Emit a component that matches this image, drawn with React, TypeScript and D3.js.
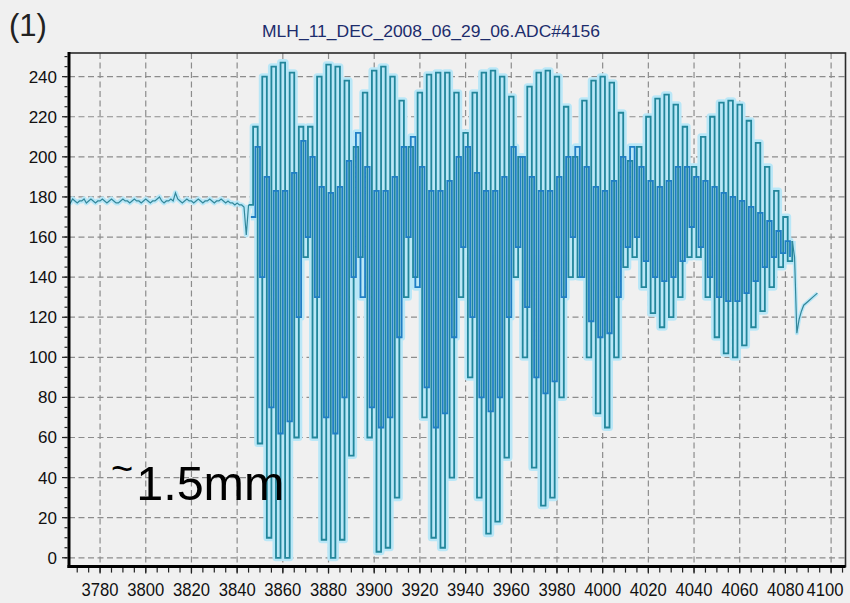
import React from 'react';
import * as d3 from 'd3';

// ---- labels ----
const TITLE = 'MLH_11_DEC_2008_06_29_06.ADC#4156';
const PANEL_LABEL = '(1)';
const NOTE_TILDE = '~';
const NOTE_TEXT = '1.5mm';

// ---- axes ----
const xTickLabels = [3780, 3800, 3820, 3840, 3860, 3880, 3900, 3920, 3940, 3960, 3980, 4000, 4020, 4040, 4060, 4080, 4100];
const yTickLabels = [0, 20, 40, 60, 80, 100, 120, 140, 160, 180, 200, 220, 240];
const xDomain = [3766.4, 4106.3];
const yDomain = [-4.4, 251.8];

// ---- signal ----
// quiet baseline before the fringes, one reading per position unit
const baselineStart = 3766;
const baselineValues = [
  178, 177, 179, 178, 177, 178, 178, 179, 177, 178,
  179, 178, 177, 178, 178, 179, 178, 177, 178, 179,
  178, 177, 177, 178, 179, 178, 178, 177, 178, 179,
  178, 178, 177, 178, 179, 178, 177, 178, 178, 179,
  180, 178, 177, 178, 178, 179, 178, 182, 179, 178,
  177, 178, 179, 178, 178, 177, 178, 179, 178, 177,
  178, 178, 179, 178, 177, 178, 178, 179, 178, 177,
  178, 177, 177, 176, 177, 176, 176, 175, 161, 176,
];

// fringe trace, one reading every 2 position units, held until the next one
const fringeStep = 2;
const outerStart = 3845;
const outerFringe = [
  176, 215, 57, 240, 10, 245, 0, 247, 0, 242, 60, 215,
  150, 215, 60, 240, 9, 246, 0, 245, 9, 238, 51, 205,
  150, 232, 60, 243, 3, 245, 5, 240, 30, 228,
  130, 205, 140, 232, 70, 241, 10, 242, 5, 242, 40, 232,
  130, 212, 90, 232, 30, 242, 12, 243, 18, 240, 50, 230,
  140, 200, 100, 235, 45, 242, 26, 243, 30, 240, 80, 225,
  140, 200, 140, 228, 100, 238, 72, 240, 65, 237, 100, 222,
  145, 198, 150, 205, 135, 220, 122, 229, 115, 231, 120, 226, 130, 215,
  150, 195, 150, 210, 130, 220, 110, 227, 102, 228, 100, 226, 106, 218,
  115, 207, 123, 195, 135, 183, 145, 170, 148, 158,
];

// interleaved readings between the outer ones
const innerStart = 3846;
const innerFringe = [
  170, 205, 140, 190, 75, 183, 62, 183, 68, 192, 120, 208,
  160, 200, 130, 185, 70, 182, 62, 185, 80, 198, 140,
  212, 130, 195, 75, 183, 65, 183, 70, 190, 110, 205,
  160, 210, 135, 195, 85, 183, 65, 183, 72, 188, 110, 200,
  155, 205, 120, 192, 80, 183, 73, 183, 80, 190, 120, 205,
  155, 200, 125, 190, 90, 183, 82, 183, 88, 190, 130, 200,
  160, 205, 140, 195, 118, 185, 110, 183, 112, 188, 130, 200, 155,
  205, 160, 195, 148, 188, 140, 185, 138, 188, 140, 195, 148, 195,
  165, 190, 155, 188, 140, 185, 130, 182, 128, 180, 128, 178,
  132, 175, 138, 172, 145, 168, 150, 163, 152, 158, 150,
];

// trailing recovery after the fringes end
const tailPositions = [4083, 4084, 4085, 4086, 4087, 4088, 4090, 4092, 4094];
const tailValues = [158, 150, 112, 119, 123, 126, 128, 130, 132];

type Pt = [number, number];

export default function App() {
  const W = 850;
  const H = 603;
  const left = 69;
  const right = 845.5;
  const top = 53;
  const bottom = 566.6;

  const x = d3.scaleLinear().domain(xDomain).range([left, right]);
  const y = d3.scaleLinear().domain(yDomain).range([bottom, top]);

  const baseline: Pt[] = baselineValues.map((v, i) => [baselineStart + i, v]);
  const outer: Pt[] = outerFringe.map((v, i) => [outerStart + i * fringeStep, v]);
  const inner: Pt[] = innerFringe.map((v, i) => [innerStart + i * fringeStep, v]);
  const tail: Pt[] = tailPositions.map((p, i) => [p, tailValues[i]]);

  const linear = d3.line<Pt>().x((d) => x(d[0])).y((d) => y(d[1]));
  const stepped = d3
    .line<Pt>()
    .x((d) => x(d[0]))
    .y((d) => y(d[1]))
    .curve(d3.curveStepAfter);

  const minorX = d3.range(3770, 4106, 5);
  const minorY = d3.range(0, 251, 5);

  const font = "'Liberation Sans', Arial, sans-serif";
  const halo = '#b9e7f7';
  const teal = '#22869b';
  const blue = '#1f7ec5';
  const gridColor = '#8c8c8c';

  return (
    <svg
      width={W}
      height={H}
      style={{ position: 'absolute', left: 0, top: 0, display: 'block' }}
    >
      <rect x={0} y={0} width={W} height={H} fill="#f0f0f0" />

      {/* grid */}
      <g stroke={gridColor} strokeWidth={1.2} strokeDasharray="6,3.5">
        {xTickLabels.map((t) => (
          <line key={'gx' + t} x1={x(t)} x2={x(t)} y1={top} y2={bottom} />
        ))}
        {yTickLabels.map((t) => (
          <line key={'gy' + t} x1={left} x2={right} y1={y(t)} y2={y(t)} />
        ))}
      </g>

      {/* traces */}
      <defs>
        <clipPath id="plotClip">
          <rect x={left} y={top} width={right - left} height={bottom - top} />
        </clipPath>
      </defs>
      <g clipPath="url(#plotClip)" fill="none" strokeLinejoin="round">
        <path d={linear(baseline) ?? ''} stroke={halo} strokeWidth={5} />
        <path d={stepped(outer) ?? ''} stroke={halo} strokeWidth={7} />
        <path d={stepped(inner) ?? ''} stroke={halo} strokeWidth={7} />
        <path d={linear(tail) ?? ''} stroke={halo} strokeWidth={4} />
      </g>
      <g clipPath="url(#plotClip)" fill="none" strokeLinejoin="miter">
        <path d={linear(baseline) ?? ''} stroke="#33879a" strokeWidth={1.2} />
        <path d={stepped(outer) ?? ''} stroke={teal} strokeWidth={1.8} />
        <path d={stepped(inner) ?? ''} stroke={blue} strokeWidth={1.8} />
        <path d={linear(tail) ?? ''} stroke="#33879a" strokeWidth={1.2} />
      </g>

      {/* frame */}
      <rect
        x={left}
        y={top}
        width={right - left}
        height={bottom - top}
        fill="none"
        stroke="#2a2a2a"
        strokeWidth={1.6}
      />
      <line x1={left} x2={left} y1={top - 1} y2={bottom + 1.5} stroke="#000" strokeWidth={3} />
      <line x1={left - 1.5} x2={right} y1={bottom} y2={bottom} stroke="#000" strokeWidth={3} />

      {/* ticks */}
      <g stroke="#222" strokeWidth={1.2}>
        {minorX.map((t) => (
          <line key={'mx' + t} x1={x(t)} x2={x(t)} y1={bottom + 1.5} y2={bottom + 6} />
        ))}
        {xTickLabels.map((t) => (
          <line key={'tx' + t} x1={x(t)} x2={x(t)} y1={bottom + 1.5} y2={bottom + 7} />
        ))}
        {minorY.map((t) => (
          <line key={'my' + t} x1={left - 4.5} x2={left - 1.5} y1={y(t)} y2={y(t)} />
        ))}
        {yTickLabels.map((t) => (
          <line key={'ty' + t} x1={left - 7} x2={left - 1.5} y1={y(t)} y2={y(t)} />
        ))}
      </g>

      <g fontFamily={font} fill="#111" fontSize={18.5}>
        {xTickLabels.map((t) => (
          <text
            key={'lx' + t}
            x={Math.min(x(t), 825)}
            y={596}
            textAnchor="middle"
            textLength={37}
            lengthAdjust="spacingAndGlyphs"
          >
            {t}
          </text>
        ))}
      </g>
      <g fontFamily={font} fill="#111" fontSize={17}>
        {yTickLabels.map((t) => (
          <text key={'ly' + t} x={57} y={y(t) + 6} textAnchor="end">
            {t}
          </text>
        ))}
      </g>

      {/* titles */}
      <text
        x={431}
        y={37}
        textAnchor="middle"
        fontFamily={font}
        fontSize={17}
        fill="#1c2c6c"
        textLength={338}
        lengthAdjust="spacingAndGlyphs"
      >
        {TITLE}
      </text>
      <text x={9} y={36} fontFamily={font} fontSize={31} fill="#222">
        {PANEL_LABEL}
      </text>
      <text x={111} y={500} fontFamily={font} fill="#000" fontSize={48.5}>
        <tspan fontSize={38} dy={-18}>
          {NOTE_TILDE}
        </tspan>
        <tspan dy={18} dx={3}>
          {NOTE_TEXT}
        </tspan>
      </text>
    </svg>
  );
}
